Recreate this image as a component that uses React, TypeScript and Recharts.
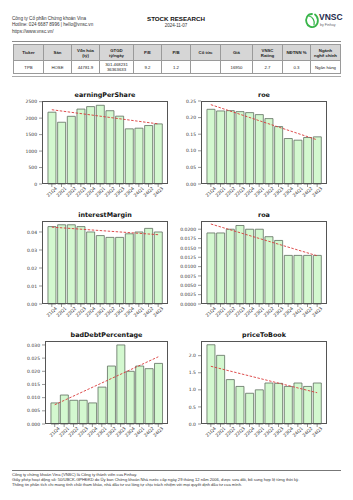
import React from 'react'
import { ComposedChart, Bar, XAxis, YAxis, ReferenceLine } from 'recharts'

const QUARTERS = ['21Q4', '22Q1', '22Q2', '22Q3', '22Q4', '23Q1', '23Q2', '23Q3', '23Q4', '24Q1', '24Q2', '24Q3']

const EPS = [2180, 1875, 2055, 2275, 2350, 2390, 2225, 2060, 1675, 1695, 1775, 1825]
const EPS_TREND = [2255, 1825]
const ROE = [0.225, 0.22, 0.221, 0.218, 0.215, 0.209, 0.197, 0.173, 0.137, 0.132, 0.14, 0.142]
const ROE_TREND = [0.239, 0.133]
const INTEREST_MARGIN = [0.043, 0.044, 0.044, 0.043, 0.04, 0.038, 0.037, 0.037, 0.039, 0.04, 0.042, 0.04]
const INTEREST_MARGIN_TREND = [0.0427, 0.0385]
const ROA = [0.019, 0.019, 0.02, 0.021, 0.02, 0.02, 0.018, 0.017, 0.013, 0.013, 0.013, 0.013]
const ROA_TREND = [0.0214, 0.0129]
const BAD_DEBT = [0.008, 0.011, 0.009, 0.009, 0.008, 0.014, 0.022, 0.03, 0.02, 0.022, 0.021, 0.023]
const BAD_DEBT_TREND = [0.0073, 0.0255]
const PB = [2.32, 2.01, 1.3, 1.1, 0.9, 1.0, 1.2, 1.19, 1.1, 1.2, 1.1, 1.2]
const PB_TREND = [1.69, 0.915]

const EPS_TICKS = [0, 500, 1000, 1500, 2000, 2500]
const ROE_TICKS = [0, 0.05, 0.1, 0.15, 0.2, 0.25]
const IM_TICKS = [0, 0.01, 0.02, 0.03, 0.04]
const ROA_TICKS = [0, 0.0025, 0.005, 0.0075, 0.01, 0.0125, 0.015, 0.0175, 0.02]
const BD_TICKS = [0, 0.005, 0.01, 0.015, 0.02, 0.025, 0.03]
const PB_TICKS = [0, 0.5, 1.0, 1.5, 2.0]

const HEAD_COLS = ['Ticker', 'Sàn', 'Vốn hóa\n(tỷ)', 'GTGD\ntỷ/ngày', 'P/E', 'P/B', 'Cổ tức', 'Giá', 'VNSC\nRating', 'NĐTNN %', 'Ngành\nnghề chính']
const ROW_VALUES = ['TPB', 'HOSE', '44781.9', '301.468231\n36363633', '9.2', '1.2', '', '16950', '2.7', '0.3', 'Ngân hàng']
const COL_WIDTHS = [30, 28, 28, 34, 28, 29, 30, 32, 30, 28, 30]

const FOOTER = [
  'Công ty chứng khoán Vina (VNSC) là Công ty thành viên của Finhay.',
  'Giấy phép hoạt động số: 50/UBCK-GPHĐKD do Ủy ban Chứng khoán Nhà nước cấp ngày 29 tháng 12 năm 2006, được sửa đổi, bổ sung hợp lệ từng thời kỳ.',
  'Thông tin phân tích chỉ mang tính chất tham khảo, nhà đầu tư vui lòng tự chịu trách nhiệm với mọi quyết định đầu tư của mình.',
]

const MPL_FONT = '"DejaVu Sans", sans-serif'
const HEAD_FONT = '"Liberation Sans", Arial, sans-serif'
const PLOT_H = 83
const AXIS_H = 26
const PAD = 4 // room round the plot so edge labels are not clipped

const XTick = (props: any) => {
  const { x, y, payload } = props
  const cy = y + 3
  return (
    <text
      x={x}
      y={cy}
      textAnchor="middle"
      dominantBaseline="central"
      fontSize={4.5}
      fill="#333"
      fontFamily={MPL_FONT}
      transform={`rotate(-45 ${x} ${cy})`}
    >
      {payload.value}
    </text>
  )
}

type PanelProps = {
  title: string
  values: number[]
  trend: number[]
  ticks: number[]
  top: number
  digits: number
  left: number
  plotTop: number
  width: number
  yWidth: number
}

function Panel({ title, values, trend, ticks, top, digits, left, plotTop, width, yWidth }: PanelProps) {
  const data = QUARTERS.map((q, i) => ({ q, v: values[i] }))
  const plotW = width - yWidth
  return (
    <>
      <div
        style={{
          position: 'absolute',
          left: left + yWidth,
          top: plotTop - 10,
          width: plotW,
          textAlign: 'center',
          fontFamily: MPL_FONT,
          fontWeight: 'bold',
          fontSize: 6.4,
          lineHeight: '9px',
          color: '#111',
        }}
      >
        {title}
      </div>
      <div style={{ position: 'absolute', left, top: plotTop - PAD }}>
        <ComposedChart
          width={width + PAD}
          height={PLOT_H + AXIS_H + PAD}
          data={data}
          margin={{ top: PAD, right: PAD, left: 0, bottom: 0 }}
          barCategoryGap="10%"
        >
          <XAxis
            dataKey="q"
            interval={0}
            height={AXIS_H}
            axisLine={false}
            tickSize={3}
            tickLine={{ stroke: '#555', strokeWidth: 0.6 }}
            padding={{ left: 5, right: 5 }}
            tick={<XTick />}
          />
          <YAxis
            type="number"
            width={yWidth}
            domain={[0, top]}
            ticks={ticks}
            interval={0}
            axisLine={false}
            tickSize={3}
            tickLine={{ stroke: '#555', strokeWidth: 0.6 }}
            tick={{ fontSize: 4.5, fill: '#333', fontFamily: MPL_FONT }}
            tickFormatter={(v: number) => v.toFixed(digits)}
          />
          <Bar dataKey="v" fill="#d3f8cf" stroke="#5f6f5f" strokeWidth={0.8} isAnimationActive={false} />
          <ReferenceLine
            segment={[
              { x: QUARTERS[0], y: trend[0] },
              { x: QUARTERS[QUARTERS.length - 1], y: trend[1] },
            ]}
            stroke="#d93a3a"
            strokeWidth={0.9}
            strokeDasharray="2.5 1.5"
            ifOverflow="visible"
          />
        </ComposedChart>
      </div>
      <div
        style={{
          position: 'absolute',
          left: left + yWidth,
          top: plotTop,
          width: plotW,
          height: PLOT_H,
          border: '0.8px solid #555',
          boxSizing: 'border-box',
          pointerEvents: 'none',
        }}
      />
    </>
  )
}

function Logo() {
  return (
    <div style={{ position: 'absolute', left: 304, top: 11, width: 45, height: 22 }}>
      <svg width={16} height={18} style={{ position: 'absolute', left: 0, top: 1 }}>
        <path d="M8 2 C3 2 1.5 7 2.5 10.5 C3.5 14.5 8 16.5 11.5 14 C15 11 14.5 5 11 2.5" fill="none" stroke="#39b54a" strokeWidth={1.8} strokeLinecap="round" />
        <path d="M5 4 C9 5 11 9 10 13" fill="none" stroke="#39b54a" strokeWidth={1.2} strokeLinecap="round" />
      </svg>
      <div style={{ position: 'absolute', left: 15, top: 2, fontFamily: HEAD_FONT, fontWeight: 'bold', fontSize: 8.5, color: '#1f2b4d', lineHeight: '9px' }}>
        VNSC
      </div>
      <div style={{ position: 'absolute', left: 16, top: 12, fontFamily: HEAD_FONT, fontSize: 3.6, color: '#666', lineHeight: '5px' }}>
        by Finhay
      </div>
    </div>
  )
}

export default function App() {
  const cell: React.CSSProperties = {
    border: '0.6px solid #9a9a9a',
    textAlign: 'center',
    verticalAlign: 'middle',
    padding: 0,
    whiteSpace: 'pre-line',
    lineHeight: '5px',
  }
  return (
    <div style={{ position: 'absolute', left: 0, top: 0, width: 353, height: 500, background: '#fff', overflow: 'hidden', color: '#222' }}>
      <div style={{ position: 'absolute', left: 12, top: 15.5, fontFamily: HEAD_FONT, fontSize: 4.6, lineHeight: '6.5px', color: '#333' }}>
        <div>Công ty Cổ phần Chứng khoán Vina</div>
        <div>Hotline: 024 6687 8996 | hello@vnsc.vn</div>
        <div>https://www.vnsc.vn/</div>
      </div>
      <div style={{ position: 'absolute', left: 126, width: 100, top: 14, textAlign: 'center', fontFamily: HEAD_FONT }}>
        <div style={{ fontWeight: 'bold', fontSize: 6.2, lineHeight: '9px', color: '#111' }}>STOCK RESEARCH</div>
        <div style={{ fontSize: 4.5, lineHeight: '5px', color: '#333' }}>2024-11-07</div>
      </div>
      <Logo />

      <div style={{ position: 'absolute', left: 12, top: 41, width: 329, height: 1.3, background: '#8a8a8a' }} />
      <table
        style={{
          position: 'absolute',
          left: 13,
          top: 44,
          borderCollapse: 'collapse',
          tableLayout: 'fixed',
          width: 327,
          fontFamily: HEAD_FONT,
          fontSize: 4.3,
          color: '#222',
        }}
      >
        <colgroup>
          {COL_WIDTHS.map((w, i) => (
            <col key={i} style={{ width: w }} />
          ))}
        </colgroup>
        <tbody>
          <tr style={{ height: 16, background: '#d6d6d6' }}>
            {HEAD_COLS.map((h, i) => (
              <td key={i} style={{ ...cell, fontWeight: 'bold' }}>
                {h}
              </td>
            ))}
          </tr>
          <tr style={{ height: 13 }}>
            {ROW_VALUES.map((v, i) => (
              <td key={i} style={cell}>
                {v}
              </td>
            ))}
          </tr>
        </tbody>
      </table>
      <div style={{ position: 'absolute', left: 12, top: 76, width: 329, height: 0.8, background: '#aaa' }} />

      <Panel title="earningPerShare" values={EPS} trend={EPS_TREND} ticks={EPS_TICKS} top={2520} digits={0} left={0} plotTop={101} width={168} yWidth={42} />
      <Panel title="roe" values={ROE} trend={ROE_TREND} ticks={ROE_TICKS} top={0.25} digits={2} left={175} plotTop={101} width={152} yWidth={26} />
      <Panel title="interestMargin" values={INTEREST_MARGIN} trend={INTEREST_MARGIN_TREND} ticks={IM_TICKS} top={0.0461} digits={2} left={0} plotTop={221} width={168} yWidth={42} />
      <Panel title="roa" values={ROA} trend={ROA_TREND} ticks={ROA_TICKS} top={0.0222} digits={4} left={175} plotTop={221} width={152} yWidth={26} />
      <Panel title="badDebtPercentage" values={BAD_DEBT} trend={BAD_DEBT_TREND} ticks={BD_TICKS} top={0.0315} digits={3} left={0} plotTop={341} width={168} yWidth={45} />
      <Panel title="priceToBook" values={PB} trend={PB_TREND} ticks={PB_TICKS} top={2.43} digits={1} left={175} plotTop={341} width={152} yWidth={26} />

      <div style={{ position: 'absolute', left: 12, top: 469.5, width: 329, height: 0.8, background: '#777' }} />
      <div style={{ position: 'absolute', left: 12, top: 472, fontFamily: HEAD_FONT, fontSize: 4.1, lineHeight: '5.2px', color: '#333', whiteSpace: 'nowrap' }}>
        {FOOTER.map((t, i) => (
          <div key={i}>{t}</div>
        ))}
      </div>
    </div>
  )
}
